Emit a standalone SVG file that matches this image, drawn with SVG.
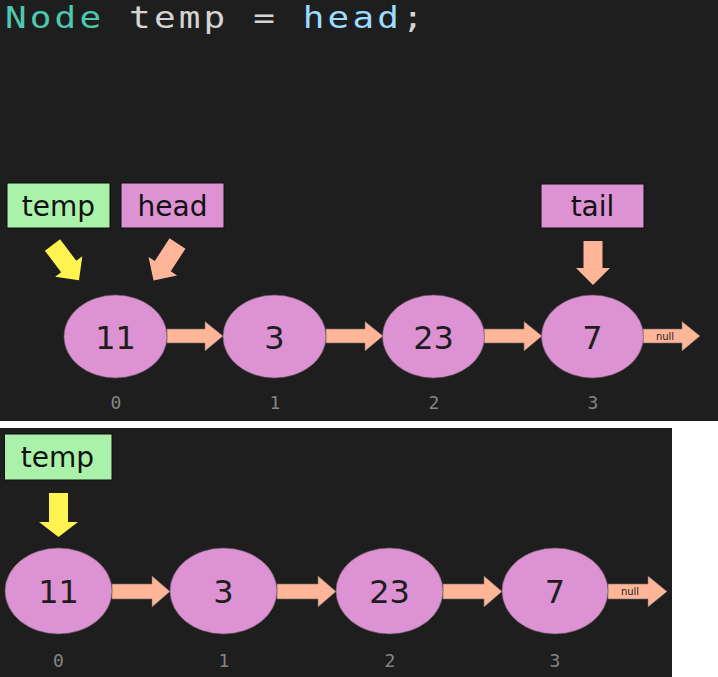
<svg xmlns="http://www.w3.org/2000/svg" width="718" height="677" viewBox="0 0 718 677">
  <style>
    .bg { fill: #1e1e1e; }
    .node { fill: #dc92d3; stroke: #6a5a66; stroke-width: 0.6; }
    .val { font-family: "DejaVu Sans", Verdana, sans-serif; font-size: 32px; fill: #1e1e1e; text-anchor: middle; }
    .idx { font-family: "DejaVu Sans Mono", "Liberation Mono", monospace; font-size: 18px; fill: #858585; text-anchor: middle; }
    .lbl { font-family: "DejaVu Sans", Verdana, sans-serif; font-size: 28px; fill: #111111; text-anchor: middle; }
    .green { fill: #aaf2aa; stroke: #0e0e0e; stroke-width: 1; }
    .pink { fill: #dc92d3; stroke: #0e0e0e; stroke-width: 1; }
    .link { fill: #ffb598; stroke: #6f6a66; stroke-width: 0.6; }
    .yel { fill: #fff350; }
    .sal { fill: #ffb598; }
    .null { font-family: "DejaVu Sans", Verdana, sans-serif; font-size: 10px; fill: #1e1e1e; text-anchor: middle; }
    .code { font-family: "DejaVu Sans Mono", "Liberation Mono", monospace; font-size: 31px; }
  </style>
  <defs>
    <path id="ptr" d="M-9.5,0 L9.5,0 L9.5,27 L17,27 L0,44 L-17,27 L-9.5,27 Z"/>
  </defs>

  <!-- backgrounds -->
  <rect x="0" y="0" width="718" height="677" fill="#ffffff"/>
  <rect class="bg" x="0" y="0" width="718" height="421"/>
  <rect class="bg" x="0" y="428" width="672" height="249"/>

  <!-- code line -->
  <text class="code" transform="scale(1.16,1)" x="4.3" y="28" textLength="361" lengthAdjust="spacing" xml:space="preserve"><tspan fill="#4ec9b0">Node</tspan><tspan fill="#d4d4d4"> temp = </tspan><tspan fill="#9cdcfe">head</tspan><tspan fill="#d4d4d4">;</tspan></text>

  <!-- top panel labels -->
  <g id="top-temp">
    <rect class="green" x="7" y="183" width="103" height="45"/>
    <text class="lbl" x="58.5" y="216">temp</text>
    <use href="#ptr" class="yel" transform="translate(52.5,245) rotate(-37)"/>
  </g>
  <g id="top-head">
    <rect class="pink" x="121" y="183" width="103" height="45"/>
    <text class="lbl" x="172.5" y="216">head</text>
    <use href="#ptr" class="sal" transform="translate(177.5,243.5) rotate(33)"/>
  </g>
  <g id="top-tail">
    <rect class="pink" x="541" y="184" width="103" height="44"/>
    <text class="lbl" x="592.5" y="216">tail</text>
    <use href="#ptr" class="sal" transform="translate(593,241)" />
  </g>

  <!-- top connectors -->
  <g id="top-connectors">
    <path class="link" d="M167,329 L205,329 L205,321.5 L223,336 L205,351 L205,343 L167,343 Z"/>
    <path class="link" d="M326,329 L365,329 L365,321.5 L383,336 L365,351 L365,343 L326,343 Z"/>
    <path class="link" d="M484,329 L524,329 L524,321.5 L542,336 L524,351 L524,343 L484,343 Z"/>
    <path class="link" d="M643,329 L682,329 L682,321.5 L700,336 L682,351 L682,343 L643,343 Z"/>
    <text class="null" x="665" y="340">null</text>
  </g>

  <!-- top nodes -->
  <g id="top-node-0">
    <ellipse class="node" cx="115.5" cy="336.5" rx="51.5" ry="41.5"/>
    <text class="val" x="115.5" y="348.5">11</text>
    <text class="idx" x="116" y="409">0</text>
  </g>
  <g id="top-node-1">
    <ellipse class="node" cx="274.5" cy="336.5" rx="51.5" ry="41.5"/>
    <text class="val" x="274.5" y="348.5">3</text>
    <text class="idx" x="275" y="409">1</text>
  </g>
  <g id="top-node-2">
    <ellipse class="node" cx="433.5" cy="336.5" rx="51" ry="41.5"/>
    <text class="val" x="433.5" y="348.5">23</text>
    <text class="idx" x="434" y="409">2</text>
  </g>
  <g id="top-node-3">
    <ellipse class="node" cx="592.5" cy="336.5" rx="51" ry="41.5"/>
    <text class="val" x="592.5" y="348.5">7</text>
    <text class="idx" x="593" y="409">3</text>
  </g>

  <!-- bottom panel -->
  <g id="bottom-temp">
    <rect class="green" x="4.5" y="434" width="107.5" height="46"/>
    <text class="lbl" x="57.5" y="467">temp</text>
    <path class="yel" d="M49,493 L68,493 L68,522 L78,522 L58.5,537 L39,522 L49,522 Z"/>
  </g>

  <g id="bottom-connectors">
    <path class="link" d="M112,584 L152,584 L152,576 L170,591.5 L152,607 L152,599 L112,599 Z"/>
    <path class="link" d="M277,584 L318,584 L318,576 L336,591.5 L318,607 L318,599 L277,599 Z"/>
    <path class="link" d="M443,584 L484,584 L484,576 L502,591.5 L484,607 L484,599 L443,599 Z"/>
    <path class="link" d="M608,584 L648,584 L648,576 L667,591.5 L648,607 L648,599 L608,599 Z"/>
    <text class="null" x="630" y="595">null</text>
  </g>

  <g id="bottom-node-0">
    <ellipse class="node" cx="58.5" cy="591" rx="53.5" ry="43"/>
    <text class="val" x="58.5" y="603">11</text>
    <text class="idx" x="58.5" y="667">0</text>
  </g>
  <g id="bottom-node-1">
    <ellipse class="node" cx="223.5" cy="591" rx="53.5" ry="43"/>
    <text class="val" x="223.5" y="603">3</text>
    <text class="idx" x="224" y="667">1</text>
  </g>
  <g id="bottom-node-2">
    <ellipse class="node" cx="389.5" cy="591" rx="53.5" ry="43"/>
    <text class="val" x="389.5" y="603">23</text>
    <text class="idx" x="390" y="667">2</text>
  </g>
  <g id="bottom-node-3">
    <ellipse class="node" cx="555" cy="591" rx="53" ry="43"/>
    <text class="val" x="555" y="603">7</text>
    <text class="idx" x="555" y="667">3</text>
  </g>
</svg>
